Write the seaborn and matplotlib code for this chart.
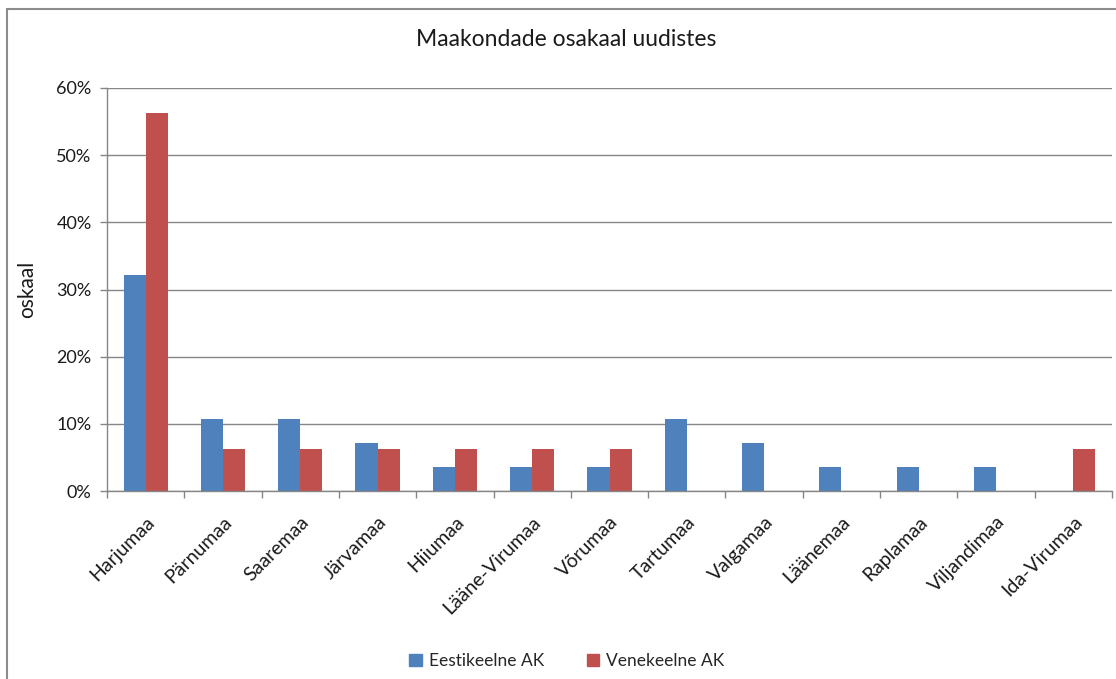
import matplotlib
matplotlib.use("Agg")
import matplotlib.pyplot as plt
import matplotlib.patches as mpatches
import matplotlib.transforms as mtransforms
import numpy as np
import pandas as pd
import seaborn as sns

counties = ["Harjumaa", "Pärnumaa", "Saaremaa", "Järvamaa", "Hiiumaa", "Lääne-Virumaa",
            "Võrumaa", "Tartumaa", "Valgamaa", "Läänemaa", "Raplamaa", "Viljandimaa",
            "Ida-Virumaa"]
series = ["Eestikeelne AK", "Venekeelne AK"]
est_share = [0.321, 0.107, 0.107, 0.071, 0.036, 0.036, 0.036, 0.107, 0.071, 0.036,
             0.036, 0.036, 0.0]
rus_share = [0.5625, 0.0625, 0.0625, 0.0625, 0.0625, 0.0625, 0.0625, 0.0, 0.0, 0.0,
             0.0, 0.0, 0.0625]
colors = ["#4F81BD", "#C0504D"]
yticks = [0, 0.1, 0.2, 0.3, 0.4, 0.5, 0.6]

df = pd.DataFrame({
    "maakond": counties * 2,
    "seeria": [series[0]] * len(counties) + [series[1]] * len(counties),
    "osakaal": est_share + rus_share,
})

sns.set_theme(style="white")
plt.rcParams["font.family"] = ["Lato", "DejaVu Sans"]

fig = plt.figure(figsize=(11.16, 6.79), dpi=100)
ax = fig.add_axes([107 / 1116, 1 - 491 / 679, (1112 - 107) / 1116, (491 - 88) / 679])

sns.barplot(data=df, x="maakond", y="osakaal", hue="seeria", order=counties,
            hue_order=series, palette=colors, width=0.572, gap=0, saturation=1,
            errorbar=None, legend=False, ax=ax, linewidth=0)

grid_c = "#868686"
text_c = "#1a1a1a"
ax.set_ylim(0, 0.6)
ax.set_xlim(-0.5, len(counties) - 0.5)
ax.set_yticks(yticks)
ax.set_yticklabels([f"{int(round(v * 100))}%" for v in yticks], fontsize=13, color=text_c)
ax.yaxis.grid(True, color=grid_c, linewidth=1)
ax.set_axisbelow(True)

ax.set_xticks(range(len(counties)))
ax.set_xticklabels(counties, rotation=45, ha="right", rotation_mode="anchor",
                   fontsize=14, color=text_c)
shift = mtransforms.ScaledTranslation(-8 / 100, 0, fig.dpi_scale_trans)
for lbl in ax.get_xticklabels():
    lbl.set_transform(lbl.get_transform() + shift)
ax.set_xticks(np.arange(-0.5, len(counties), 1.0), minor=True)
ax.tick_params(axis="x", which="major", length=0, pad=16)
ax.tick_params(axis="x", which="minor", length=5, color=grid_c, width=1, bottom=True)
ax.tick_params(axis="y", length=5, color=grid_c, width=1, left=True, pad=6)

for side in ["top", "right"]:
    ax.spines[side].set_visible(False)
for side in ["left", "bottom"]:
    ax.spines[side].set_color(grid_c)
    ax.spines[side].set_linewidth(1)

ax.set_xlabel("")
ax.set_ylabel("oskaal", fontsize=15, color=text_c, labelpad=14)

fig.text(566 / 1116, 1 - 40 / 679, "Maakondade osakaal uudistes", ha="center",
         va="center", fontsize=16.5, color=text_c)

handles = [mpatches.Patch(color=c, label=s) for c, s in zip(colors, series)]
fig.legend(handles=handles, loc="center", bbox_to_anchor=(567 / 1116, 1 - 661 / 679),
           ncol=2, frameon=False, fontsize=12.5, handlelength=0.7, handleheight=0.7,
           columnspacing=2.5, handletextpad=0.4)

frame = mpatches.Rectangle((7 / 1116, -0.1), 1.2, 1 - 9 / 679 + 0.1, transform=fig.transFigure,
                           fill=False, edgecolor="#8c8c8c", linewidth=1.5)
fig.patches.append(frame)

fig.savefig("out.png", dpi=100)
